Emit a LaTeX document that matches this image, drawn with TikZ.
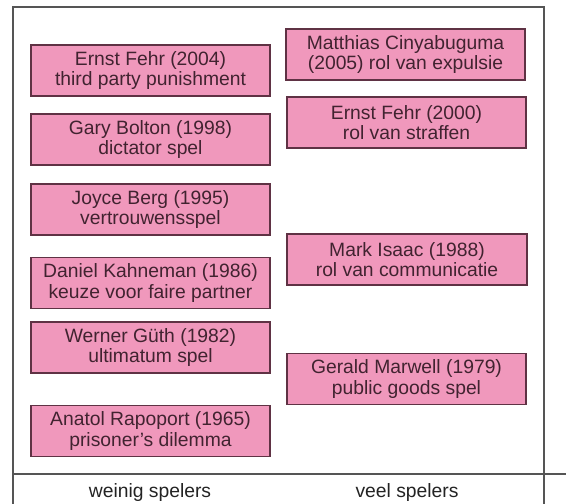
\documentclass[tikz,border=0pt]{standalone}
\usepackage{fontspec}
\setmainfont{Liberation Sans}
\definecolor{boxfill}{RGB}{240,152,188}
\definecolor{boxdraw}{RGB}{95,50,68}
\definecolor{boxtext}{RGB}{65,35,48}
\definecolor{frame}{RGB}{85,85,85}
\definecolor{labeltext}{RGB}{35,35,35}
\begin{document}
\begin{tikzpicture}[x=1pt,y=-1pt,
  paper/.style={draw=boxdraw,fill=boxfill,line width=1.1pt,minimum width=239pt,minimum height=51pt,
    inner sep=0pt,align=center,text=boxtext,font=\fontsize{19.3}{20.5}\selectfont},
  axislabel/.style={text=labeltext,font=\fontsize{19.3}{20.5}\selectfont,inner sep=0pt},
  frameline/.style={draw=frame,line width=1.3pt}]
\useasboundingbox (0,0) rectangle (566,504);
% frame
\coordinate (tl) at (13,7);
\coordinate (tr) at (544,7);
\coordinate (bl) at (13,504);
\coordinate (br) at (544,504);
\coordinate (hl) at (13,474);
\coordinate (hr) at (566,474);
\draw[frameline] (bl) -- (tl) -- (tr) -- (br);
\draw[frameline] (hl) -- (hr);
% left column
\node[paper] (fehr04) at (150.5,70.5) {Ernst Fehr (2004)\\third party punishment};
\node[paper] (bolton) at (150.5,139.5) {Gary Bolton (1998)\\dictator spel};
\node[paper] (berg) at (150.5,209.5) {Joyce Berg (1995)\\vertrouwensspel};
\node[paper] (kahneman) at (150.5,283) {Daniel Kahneman (1986)\\keuze voor faire partner};
\node[paper] (guth) at (150.5,347.5) {Werner Güth (1982)\\ultimatum spel};
\node[paper] (rapoport) at (150.5,431) {Anatol Rapoport (1965)\\prisoner’s dilemma};
% right column
\node[paper] (cinya) at (405.5,54.5) {Matthias Cinyabuguma\\(2005) rol van expulsie};
\node[paper] (fehr00) at (406.5,122.5) {Ernst Fehr (2000)\\rol van straffen};
\node[paper,minimum width=240pt] (isaac) at (407,259.5) {Mark Isaac (1988)\\rol van communicatie};
\node[paper] (marwell) at (406.5,379) {Gerald Marwell (1979)\\public goods spel};
% axis labels
\node[axislabel] (few) at (150,493) {weinig spelers};
\node[axislabel] (many) at (407,493) {veel spelers};
\end{tikzpicture}
\end{document}
